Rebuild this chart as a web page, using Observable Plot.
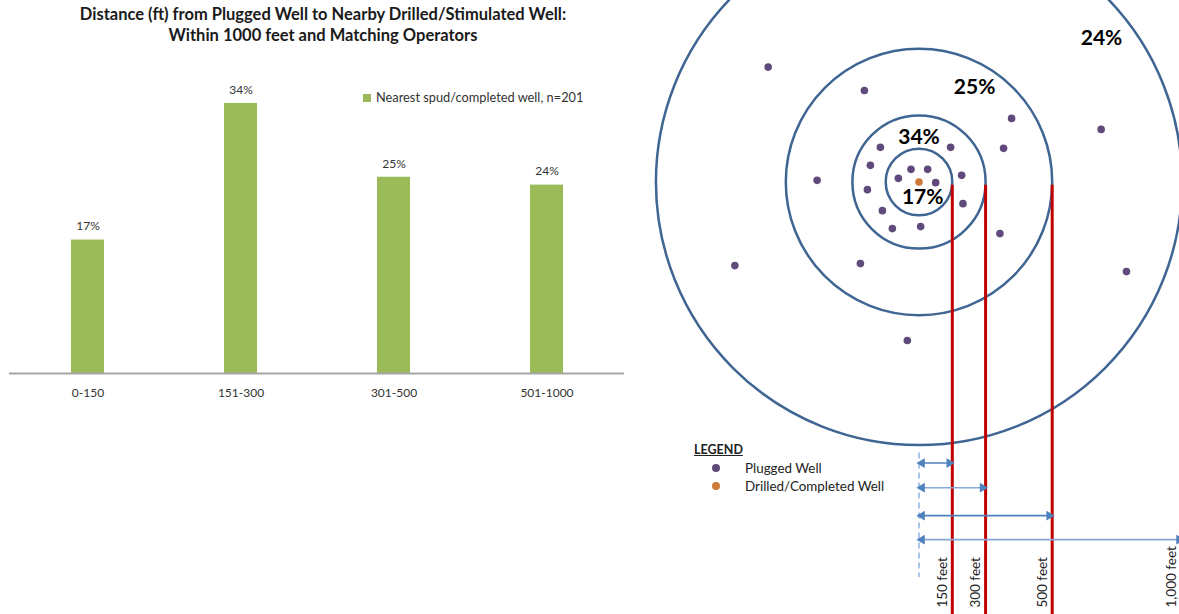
<!DOCTYPE html>
<html><head><meta charset="utf-8">
<script src="https://cdn.jsdelivr.net/npm/d3@7"></script>
<script src="https://cdn.jsdelivr.net/npm/@observablehq/plot@0.6"></script>
<style>
body{margin:0;background:#fff;font-family:Lato,"Open Sans",sans-serif;}
#wrap{position:relative;width:1179px;height:614px;overflow:hidden;background:#fff;}
.abs{position:absolute;white-space:nowrap;}
#title{left:0;top:4px;width:646px;text-align:center;font-weight:bold;font-size:16.5px;line-height:21px;color:#1a1a1a;}
#barLegend{left:363px;top:89px;font-size:12.8px;line-height:16px;color:#333;}
#barLegend .sw{display:inline-block;width:8px;height:8px;background:#9bbb59;margin-right:5px;vertical-align:0px;}
.lg{font-size:13.4px;line-height:16px;color:#222;}
.ldot{position:absolute;width:8px;height:8px;border-radius:50%;}
</style></head><body>
<div id="wrap">
  <div id="left" class="abs" style="left:0;top:0;width:630px;height:614px"></div>
  <div id="right" class="abs" style="left:630px;top:0;width:549px;height:614px"></div>
  <div id="title" class="abs">Distance (ft) from Plugged Well to Nearby Drilled/Stimulated Well:<br>Within 1000 feet and Matching Operators</div>
  <div id="barLegend" class="abs"><span class="sw"></span>Nearest spud/completed well, n=201</div>
  <div class="abs lg" style="left:694px;top:442px;font-weight:bold;font-size:12.5px;text-decoration:underline;">LEGEND</div>
  <div class="ldot" style="left:712px;top:464px;background:#604a7b"></div>
  <div class="abs lg" style="left:745px;top:460px;">Plugged Well</div>
  <div class="ldot" style="left:712px;top:482px;background:#cc7a3a"></div>
  <div class="abs lg" style="left:745px;top:478px;">Drilled/Completed Well</div>
</div>
<script>
// ---- bar chart data ----
const categories = ["0-150", "151-300", "301-500", "501-1000"];
const shares = [17, 34.4, 25, 24];

// ---- diagram data (schematic units; one unit = innermost ring radius) ----
const ringRadii = [1, 2, 4, 7.9];
const ringFeet = ["150 feet", "300 feet", "500 feet", "1,000 feet"];
const ringShares = ["17%", "34%", "25%", "24%"];
const ringLabelX = [0.11, 0, 1.67, 5.48];
const ringLabelY = [0.47, -1.34, -2.84, -4.31];
const pluggedX = [-4.53,-1.64,2.78,5.47,2.54,-1.16,0.95,-1.46,-0.24,0.26,1.28,-3.06,-0.62,0.50,-1.55,1.32,-1.10,-0.80,0.05,2.43,-5.53,-1.76,6.23,-0.35];
const pluggedY = [-3.45,-2.75,-1.91,-1.58,-1.01,-1.04,-1.04,-0.50,-0.38,-0.38,-0.20,-0.05,-0.11,0.02,0.23,0.65,0.86,1.40,1.34,1.55,2.51,2.45,2.69,4.76];
const drilledX = [0], drilledY = [0];
const arrowY = [8.44, 9.18, 10.02, 10.74];
const arrowColor = ["#4f81bd", "#86a9d9", "#4f81bd", "#86a9d9"];

// ---- left: bar chart ----
const bars = categories.map((c, i) => ({category: c, share: shares[i]}));
const left = Plot.plot({
  width: 630, height: 614,
  marginLeft: 9, marginRight: 6, marginTop: 59, marginBottom: 241,
  x: {domain: categories, padding: 0, axis: null},
  y: {domain: [0, 40], axis: null},
  style: {fontFamily: "Lato, sans-serif", fontSize: "12px", color: "#333", background: "transparent"},
  marks: [
    Plot.barY(bars, {x: "category", y: "share", fill: "#9bbb59", insetLeft: 60, insetRight: 60}),
    Plot.ruleY([0], {stroke: "#a6a6a6", strokeWidth: 2}),
    Plot.text(bars, {x: "category", y: "share", text: d => Math.round(d.share) + "%", dy: -13.5, fontSize: 12, fill: "#333"}),
    Plot.axisX({tickSize: 0, tickPadding: 15, fontSize: 12, label: null})
  ]
});
document.getElementById("left").appendChild(left);

// ---- right: ring diagram ----
const U = 33.3, cx = 918.5 - 630, cy = 181.5, W = 549, H = 614;
const rings = ringRadii.map((r, i) => ({r, feet: ringFeet[i], share: ringShares[i], lx: ringLabelX[i], ly: ringLabelY[i], ay: arrowY[i], ac: arrowColor[i]}));
const plugged = pluggedX.map((x, i) => ({x, y: pluggedY[i]}));
const drilled = drilledX.map((x, i) => ({x, y: drilledY[i]}));
const right = Plot.plot({
  width: W, height: H, margin: 0,
  x: {domain: [-cx / U, (W - cx) / U], range: [0, W], axis: null},
  y: {domain: [-cy / U, (H - cy) / U], range: [0, H], axis: null},
  r: {type: "linear", domain: [0, 1], range: [0, U]},
  style: {fontFamily: "Lato, sans-serif", background: "transparent", overflow: "hidden"},
  marks: [
    Plot.dot(rings, {x: () => 0, y: () => 0, r: "r", fill: "none", stroke: "#3f6592", strokeWidth: 2.5}),
    Plot.dot(plugged, {x: "x", y: "y", r: 3.8, fill: "#604a7b", stroke: "none"}),
    Plot.dot(drilled, {x: "x", y: "y", r: 3.8, fill: "#cc7a3a", stroke: "none"}),
    Plot.ruleX(rings.slice(0, 3), {x: "r", y1: 0.1, y2: 13.2, stroke: "#c00000", strokeWidth: 3}),
    Plot.text(rings, {x: "lx", y: "ly", text: "share", fontSize: 21, fontWeight: "bold", fill: "#000"}),
    Plot.ruleX([0], {y1: 8.14, y2: 11.88, stroke: "#8db3e2", strokeWidth: 1.5, strokeDasharray: "6,4"}),
    Plot.ruleY(rings, {y: "ay", x1: () => 0, x2: "r", stroke: "ac", strokeWidth: 1.6}),
    Plot.dot(rings, {x: () => 0, y: "ay", symbol: "triangle", r: 3.6, rotate: -90, dx: 3, fill: "#4f81bd", stroke: "none"}),
    Plot.dot(rings, {x: "r", y: "ay", symbol: "triangle", r: 3.6, rotate: 90, dx: -3, fill: "#4f81bd", stroke: "none"}),
    Plot.text(rings, {x: "r", y: 12.78, text: "feet", rotate: -90, textAnchor: "start", dx: -10, fontSize: 13.5, fill: "#222"})
  ]
});
document.getElementById("right").appendChild(right);
</script>
</body></html>
